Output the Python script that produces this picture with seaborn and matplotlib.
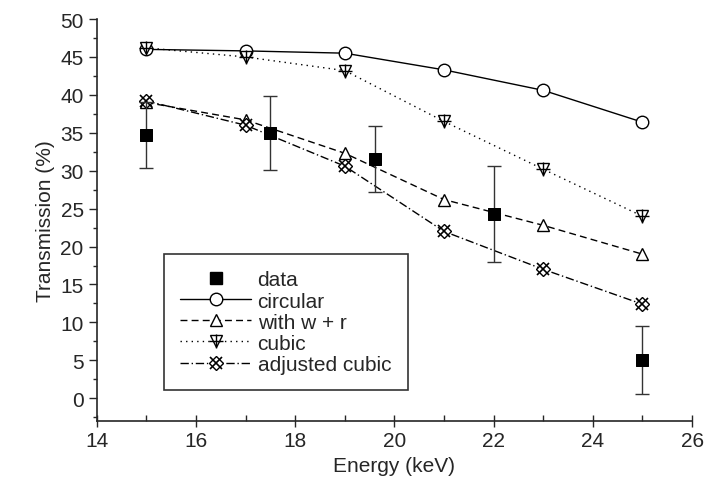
import numpy as np
import pandas as pd
import seaborn as sns
from matplotlib import pyplot as plt
from matplotlib.ticker import MultipleLocator

# model energies (keV) and transmission (%)
energy = [15, 17, 19, 21, 23, 25]
circular = [46.0, 45.8, 45.5, 43.3, 40.6, 36.4]
with_wr = [39.0, 36.7, 32.3, 26.2, 22.8, 19.0]
cubic = [46.2, 45.0, 43.2, 36.5, 30.2, 24.0]
adjusted_cubic = [39.2, 36.0, 30.6, 22.0, 17.0, 12.4]

# measured data with error bars
data_energy = [15.0, 17.5, 19.6, 22.0, 25.0]
data_trans = [34.7, 35.0, 31.5, 24.3, 5.0]
data_err = [4.3, 4.9, 4.35, 6.3, 4.5]

sns.set_style("ticks")
plt.rcParams['font.family'] = ['Liberation Sans', 'DejaVu Sans']

fig = plt.figure(figsize=(7.12, 4.89), dpi=100)
ax = fig.add_axes([0.136, 0.137, 0.836, 0.822])

df = pd.DataFrame({'energy': energy, 'circular': circular, 'with_wr': with_wr,
                   'cubic': cubic, 'adjusted': adjusted_cubic})

ms = 9
# circular
sns.lineplot(data=df, x='energy', y='circular', ax=ax, color='black', lw=1.0,
             marker='o', markersize=ms, markerfacecolor='white',
             markeredgecolor='black', markeredgewidth=1.0)
h_circ = ax.lines[-1]
# with w + r
sns.lineplot(data=df, x='energy', y='with_wr', ax=ax, color='black', lw=1.0,
             linestyle=(0, (5, 3)), marker='^', markersize=ms, markerfacecolor='white',
             markeredgecolor='black', markeredgewidth=1.0)
h_wr = ax.lines[-1]
# cubic: down triangle with a plus
sns.lineplot(data=df, x='energy', y='cubic', ax=ax, color='black', lw=1.0,
             linestyle=(0, (1, 3)), marker='v', markersize=ms, markerfacecolor='white',
             markeredgecolor='black', markeredgewidth=1.0)
h_cub = ax.lines[-1]
ax.plot(df['energy'], df['cubic'], linestyle='none', marker='+', markersize=ms + 1,
        color='black', markeredgewidth=1.0)
h_cub2 = ax.lines[-1]
# adjusted cubic: x over diamond
sns.lineplot(data=df, x='energy', y='adjusted', ax=ax, color='black', lw=1.0,
             linestyle=(0, (6, 2, 1, 2)), marker='D', markersize=ms - 2,
             markerfacecolor='white', markeredgecolor='black', markeredgewidth=1.0)
h_adj = ax.lines[-1]
ax.plot(df['energy'], df['adjusted'], linestyle='none', marker='x', markersize=ms,
        color='black', markeredgewidth=1.2)
h_adj2 = ax.lines[-1]

# measured data
ax.errorbar(data_energy, data_trans, yerr=data_err, fmt='none', ecolor='#333333',
            elinewidth=1.0, capsize=5, capthick=1.0, zorder=3)
sns.scatterplot(x=data_energy, y=data_trans, ax=ax, marker='s', s=80, color='black',
                edgecolor='black', zorder=4)
h_data, = ax.plot([], [], linestyle='none', marker='s', markersize=8, color='black')

ax.set_xlim(14, 26)
ax.set_ylim(-3, 50)
ax.xaxis.set_major_locator(MultipleLocator(2))
ax.xaxis.set_minor_locator(MultipleLocator(1))
ax.yaxis.set_minor_locator(MultipleLocator(2.5))
ax.set_yticks(np.arange(0, 51, 5))
ax.tick_params(axis='y', which='major', direction='out', length=6, width=1, labelsize=15)
ax.tick_params(axis='y', which='minor', direction='out', length=3, width=1)
ax.tick_params(axis='x', which='major', direction='inout', length=8, width=1, labelsize=15)
ax.tick_params(axis='x', which='minor', direction='in', length=4, width=1)
for s in ['left', 'bottom']:
    ax.spines[s].set_linewidth(1.2)
sns.despine(ax=ax)

ax.set_xlabel('Energy (keV)', fontsize=15)
ax.set_ylabel('Transmission (%)', fontsize=15)

leg = ax.legend([h_data, h_circ, h_wr, (h_cub, h_cub2), (h_adj, h_adj2)],
                ['data', 'circular', 'with w + r', 'cubic', 'adjusted cubic'],
                loc='lower left', bbox_to_anchor=(0.095, 0.05), fontsize=15,
                frameon=True, fancybox=False, edgecolor='black', handlelength=3.4,
                borderpad=0.8, labelspacing=0.1, handletextpad=0.3)
leg.get_frame().set_linewidth(1.2)

plt.savefig('out.png', dpi=100)
